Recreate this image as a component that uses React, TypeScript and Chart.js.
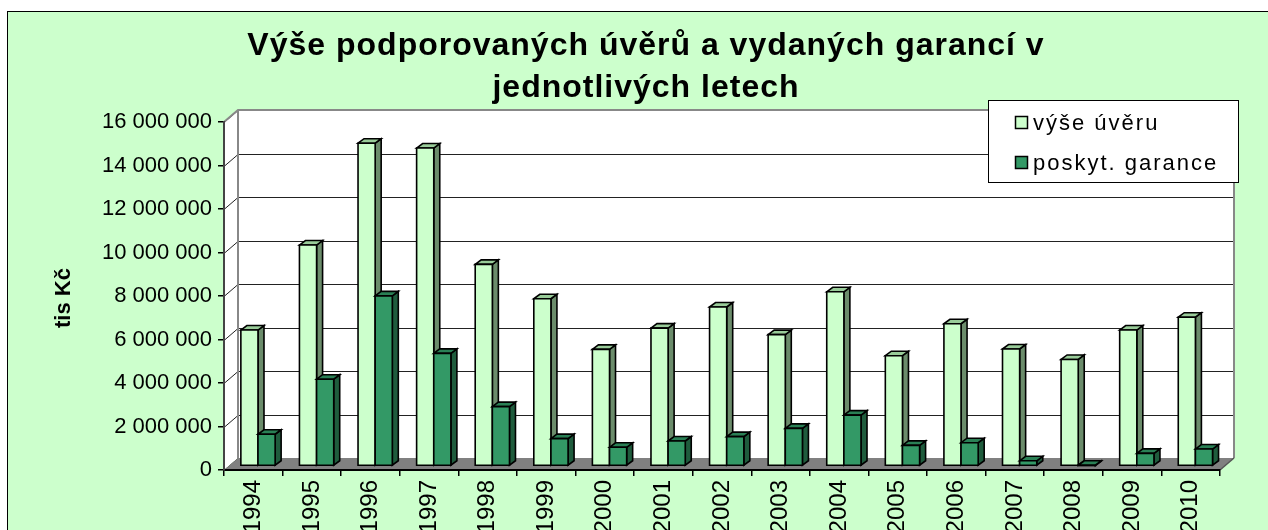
import React, { useEffect, useRef } from 'react';
import { Chart, registerables } from 'chart.js';

Chart.register(...registerables);

// ---- data ----
const years = ['1994', '1995', '1996', '1997', '1998', '1999', '2000', '2001', '2002', '2003', '2004', '2005', '2006', '2007', '2008', '2009', '2010'];
const vyseUveru = [6250000, 10160000, 14840000, 14620000, 9270000, 7690000, 5360000, 6340000, 7310000, 6040000, 8010000, 5070000, 6540000, 5380000, 4900000, 6250000, 6840000];
const poskytGarance = [1460000, 3990000, 7820000, 5180000, 2730000, 1260000, 860000, 1150000, 1350000, 1730000, 2340000, 950000, 1070000, 240000, 20000, 580000, 780000];
const seriesLabels = ['výše úvěru', 'poskyt. garance'];
const titleLines = ['Výše podporovaných úvěrů a vydaných garancí v', 'jednotlivých letech'];
const yAxisTitle = 'tis Kč';
const yMin = 0;
const yMax = 16000000;
const yStep = 2000000;

// ---- styles ----
const W = 1268;
const H = 530;
const FONT = "'Liberation Sans', Arial, sans-serif";
const frontColors = ['#CCFFCC', '#339966'];
const topColors = ['#99CC99', '#2A8055'];
const sideColors = ['#6B8C6B', '#1F5C3D'];
const WALL_DX = 14;
const WALL_DY = -12;
const BAR_OX = 4.7;
const BAR_OY = -4;
const BOX_DX = 6;
const BOX_DY = -4.5;

const fmt = (v: number) => String(v).replace(/\B(?=(\d{3})+(?!\d))/g, ' ');

const excel3d = {
  id: 'excel3d',
  beforeDraw(chart: any) {
    const { ctx, chartArea: ca, scales } = chart;
    const y = scales.y;
    ctx.save();
    ctx.fillStyle = '#FFFFFF';
    ctx.fillRect(0, 0, chart.width, chart.height);
    ctx.fillStyle = '#CCFFCC';
    ctx.fillRect(7.5, 11.5, chart.width, chart.height);
    ctx.strokeStyle = '#000';
    ctx.lineWidth = 1;
    ctx.strokeRect(7.5, 11.5, chart.width + 20, chart.height + 20);

    // title
    ctx.save();
    ctx.fillStyle = '#000';
    ctx.font = `bold 32px ${FONT}`;
    (ctx as any).letterSpacing = '1px';
    ctx.textAlign = 'center';
    ctx.textBaseline = 'alphabetic';
    ctx.fillText(titleLines[0], 646, 55);
    ctx.fillText(titleLines[1], 646, 97);
    ctx.restore();

    // y axis title
    ctx.save();
    ctx.fillStyle = '#000';
    ctx.translate(64, 298);
    ctx.rotate(-Math.PI / 2);
    ctx.font = `bold 22px ${FONT}`;
    ctx.textAlign = 'center';
    ctx.textBaseline = 'middle';
    ctx.fillText(yAxisTitle, 0, 0);
    ctx.restore();

    // left side wall
    ctx.fillStyle = '#FFFFFF';
    ctx.beginPath();
    ctx.moveTo(ca.left, ca.top);
    ctx.lineTo(ca.left + WALL_DX, ca.top + WALL_DY);
    ctx.lineTo(ca.left + WALL_DX, ca.bottom + WALL_DY);
    ctx.lineTo(ca.left, ca.bottom);
    ctx.closePath();
    ctx.fill();
    // back wall
    ctx.fillRect(ca.left + WALL_DX, ca.top + WALL_DY, ca.right - ca.left, ca.bottom - ca.top);

    // gridlines
    ctx.strokeStyle = '#222';
    ctx.lineWidth = 1;
    for (const t of y.ticks) {
      const py = Math.round(y.getPixelForValue(t.value)) + 0.5;
      ctx.beginPath();
      ctx.moveTo(ca.left + WALL_DX, py + WALL_DY);
      ctx.lineTo(ca.right + WALL_DX, py + WALL_DY);
      ctx.stroke();
      ctx.beginPath();
      ctx.moveTo(ca.left, py);
      ctx.lineTo(ca.left + WALL_DX, py + WALL_DY);
      ctx.stroke();
    }
    // back wall border
    ctx.strokeStyle = '#888';
    ctx.lineWidth = 2;
    ctx.beginPath();
    ctx.moveTo(ca.left, ca.top);
    ctx.lineTo(ca.left + WALL_DX, ca.top + WALL_DY);
    ctx.lineTo(ca.right + WALL_DX, ca.top + WALL_DY);
    ctx.lineTo(ca.right + WALL_DX, ca.bottom + WALL_DY);
    ctx.moveTo(ca.left + WALL_DX, ca.top + WALL_DY);
    ctx.lineTo(ca.left + WALL_DX, ca.bottom + WALL_DY);
    ctx.stroke();

    // floor
    ctx.fillStyle = '#808080';
    ctx.beginPath();
    ctx.moveTo(ca.left, ca.bottom);
    ctx.lineTo(ca.right, ca.bottom);
    ctx.lineTo(ca.right + WALL_DX, ca.bottom + WALL_DY);
    ctx.lineTo(ca.left + WALL_DX, ca.bottom + WALL_DY);
    ctx.closePath();
    ctx.fill();
    ctx.strokeStyle = '#555';
    ctx.lineWidth = 1.5;
    ctx.beginPath();
    ctx.moveTo(ca.right, ca.bottom);
    ctx.lineTo(ca.right + WALL_DX, ca.bottom + WALL_DY);
    ctx.stroke();
    ctx.restore();
  },
  beforeDatasetsDraw(chart: any) {
    const { ctx } = chart;
    const metas = [chart.getDatasetMeta(0), chart.getDatasetMeta(1)];
    ctx.save();
    ctx.lineJoin = 'miter';
    ctx.lineWidth = 1.6;
    ctx.strokeStyle = '#000';
    for (let i = 0; i < years.length; i++) {
      for (let d = 0; d < 2; d++) {
        const el = metas[d].data[i];
        if (!el) continue;
        const { x, y, base, width } = el.getProps(['x', 'y', 'base', 'width'], true);
        const l = x - width / 2 + BAR_OX;
        const r = x + width / 2 + BAR_OX;
        const t = Math.min(y, base) + BAR_OY;
        const b = Math.max(y, base) + BAR_OY;
        // side
        ctx.fillStyle = sideColors[d];
        ctx.beginPath();
        ctx.moveTo(r, t);
        ctx.lineTo(r + BOX_DX, t + BOX_DY);
        ctx.lineTo(r + BOX_DX, b + BOX_DY);
        ctx.lineTo(r, b);
        ctx.closePath();
        ctx.fill();
        ctx.stroke();
        // top
        ctx.fillStyle = topColors[d];
        ctx.beginPath();
        ctx.moveTo(l, t);
        ctx.lineTo(l + BOX_DX, t + BOX_DY);
        ctx.lineTo(r + BOX_DX, t + BOX_DY);
        ctx.lineTo(r, t);
        ctx.closePath();
        ctx.fill();
        ctx.stroke();
        // front
        ctx.fillStyle = frontColors[d];
        ctx.beginPath();
        ctx.rect(l, t, r - l, b - t);
        ctx.fill();
        ctx.stroke();
      }
    }
    ctx.restore();
    return false;
  },
  afterDraw(chart: any) {
    const { ctx } = chart;
    ctx.save();
    ctx.fillStyle = '#FFFFFF';
    ctx.strokeStyle = '#000';
    ctx.lineWidth = 1;
    ctx.fillRect(988.5, 100.5, 250, 82);
    ctx.strokeRect(988.5, 100.5, 250, 82);
    ctx.font = `22px ${FONT}`;
    (ctx as any).letterSpacing = '2px';
    ctx.textAlign = 'left';
    ctx.textBaseline = 'middle';
    const rows = [122.5, 162.5];
    for (let d = 0; d < 2; d++) {
      ctx.fillStyle = frontColors[d];
      ctx.fillRect(1015.5, rows[d] - 6, 12, 12);
      ctx.lineWidth = 1.5;
      ctx.strokeRect(1015.5, rows[d] - 6, 12, 12);
      ctx.fillStyle = '#000';
      ctx.fillText(seriesLabels[d], 1033, rows[d] + 1);
    }
    ctx.restore();
  },
};

export default function App() {
  const ref = useRef<HTMLCanvasElement | null>(null);
  useEffect(() => {
    if (!ref.current) return;
    const chart = new Chart(ref.current, {
      type: 'bar',
      data: {
        labels: years,
        datasets: [
          { label: seriesLabels[0], data: vyseUveru, backgroundColor: frontColors[0], categoryPercentage: 0.585, barPercentage: 1.0 },
          { label: seriesLabels[1], data: poskytGarance, backgroundColor: frontColors[1], categoryPercentage: 0.585, barPercentage: 1.0 },
        ],
      },
      options: {
        responsive: false,
        animation: false,
        devicePixelRatio: 1,
        layout: { padding: { top: 122, right: 48, bottom: 0, left: 0 } },
        plugins: { legend: { display: false }, title: { display: false }, tooltip: { enabled: false } },
        scales: {
          x: {
            offset: true,
            grid: { display: true, drawOnChartArea: false, drawTicks: true, tickLength: 6, color: '#000', lineWidth: 1.5, offset: true },
            border: { display: true, color: '#000', width: 2 },
            ticks: { minRotation: 90, maxRotation: 90, autoSkip: false, padding: 4, color: '#000', font: { family: FONT, size: 24 } },
            afterFit: (s: any) => { s.height = 60; },
          },
          y: {
            min: yMin,
            max: yMax,
            grid: { display: true, drawOnChartArea: false, drawTicks: true, tickLength: 6, color: '#000', lineWidth: 1.5 },
            border: { display: true, color: '#444', width: 2 },
            ticks: { stepSize: yStep, padding: 6, color: '#000', font: { family: FONT, size: 22 }, callback: (v: any) => fmt(Number(v)) },
            afterFit: (s: any) => { s.width = 224; },
          },
        },
      },
      plugins: [excel3d],
    });
    return () => chart.destroy();
  }, []);
  return (
    <div style={{ position: 'fixed', left: 0, top: 0, width: W, height: H, overflow: 'hidden' }}>
      <canvas ref={ref} width={W} height={H} style={{ display: 'block', width: W, height: H }} />
    </div>
  );
}
